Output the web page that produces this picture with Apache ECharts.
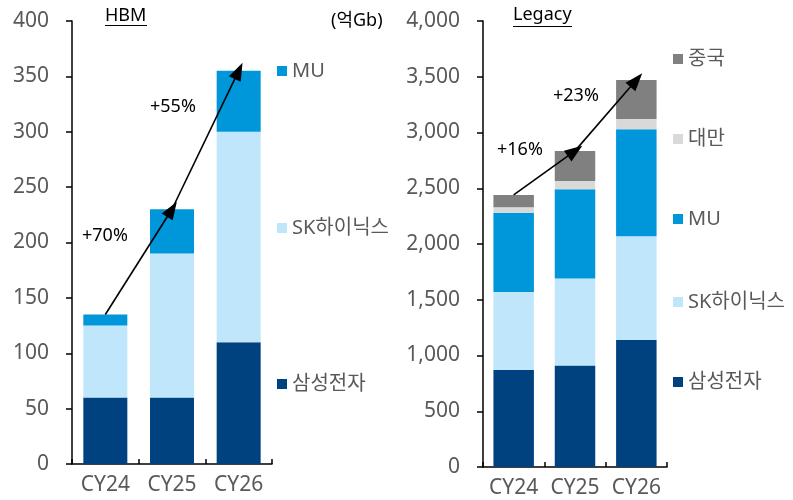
<!DOCTYPE html>
<html>
<head>
<meta charset="utf-8">
<script src="https://cdn.jsdelivr.net/npm/echarts@6/dist/echarts.min.js"></script>
<style>
html,body{margin:0;padding:0;background:#fff;}
#c{width:793px;height:500px;}
</style>
</head>
<body>
<div id="c"></div>
<script>
// ---- data ----
var categories = ['CY24', 'CY25', 'CY26'];
// HBM (억Gb)
var hbmSamsung = [60, 60, 110];
var hbmSK = [65, 130, 190];
var hbmMU = [10, 40, 55];
var hbmTotals = [135, 230, 355];
var hbmGrowth = ['+70%', '+55%'];
// Legacy (억Gb)
var legSamsung = [870, 910, 1140];
var legSK = [700, 780, 930];
var legMU = [710, 800, 960];
var legTaiwan = [50, 75, 90];
var legChina = [110, 270, 350];
var legTotals = [2440, 2835, 3470];
var legGrowth = ['+16%', '+23%'];
var hbmTicks = [0, 400, 50];
var legTicks = [0, 4000, 500];

var C_SAM = '#00427F', C_SK = '#BFE6FB', C_MU = '#0096DA', C_TW = '#D9D9D9', C_CN = '#808080';
var FONT = '"Noto Sans", "Noto Sans CJK KR", sans-serif';
var GRAY = '#595959';

function arrowLines(totals) {
  var out = [];
  for (var i = 0; i < totals.length - 1; i++) {
    out.push([{ coord: [categories[i], totals[i]] }, { coord: [categories[i + 1], totals[i + 1]] }]);
  }
  return out;
}
function markLineFor(totals) {
  return {
    silent: true,
    symbol: ['none', 'triangle'],
    symbolSize: [13, 18],
    label: { show: false },
    lineStyle: { color: '#000', width: 1.6, type: 'solid' },
    emphasis: { disabled: true },
    data: arrowLines(totals)
  };
}
function xAxis(gi) {
  return {
    type: 'category', gridIndex: gi, data: categories,
    axisLine: { lineStyle: { color: '#000', width: 1.5 } },
    axisTick: { show: true, inside: true, length: 5, lineStyle: { color: '#000', width: 1.5 } },
    axisLabel: { color: GRAY, fontSize: 21, fontFamily: FONT, margin: 11, interval: 0, hideOverlap: false }
  };
}
function yAxis(gi, t, fmt) {
  return {
    type: 'value', gridIndex: gi, min: t[0], max: t[1], interval: t[2],
    splitLine: { show: false },
    axisLine: { show: true, lineStyle: { color: '#000', width: 1.5 } },
    axisTick: { show: true, length: 6, lineStyle: { color: '#000', width: 1.5 } },
    axisLabel: { color: GRAY, fontSize: 21, fontFamily: FONT, margin: 23, formatter: fmt }
  };
}
function bar(name, data, color, xi, stack, extra) {
  var s = { name: name, type: 'bar', stack: stack, xAxisIndex: xi, yAxisIndex: xi,
    data: data, itemStyle: { color: color }, barCategoryGap: '34%' };
  if (extra) s.markLine = extra;
  return s;
}
function leg(name, left, top) {
  return { data: [name], left: left, top: top, orient: 'vertical', padding: 0,
    icon: 'rect', itemWidth: 10, itemHeight: 10, itemGap: 0,
    textStyle: { color: GRAY, fontSize: 20, fontFamily: FONT } };
}
function txt(s, x, y, size) {
  return { type: 'text', left: x, top: y, style: { text: s, fill: '#000', font: size + 'px ' + FONT } };
}

var chart = echarts.init(document.getElementById('c'));
chart.setOption({
  animation: false,
  grid: [
    { left: 72, width: 200, top: 21, bottom: 36 },
    { left: 483, width: 184, top: 21, bottom: 33 }
  ],
  xAxis: [xAxis(0), xAxis(1)],
  yAxis: [yAxis(0, hbmTicks), yAxis(1, legTicks, function (v) { return v.toLocaleString('en-US'); })],
  legend: [
    leg('MU', 277, 61), leg('SK하이닉스', 277, 218), leg('삼성전자', 277, 374),
    leg('중국', 673, 49), leg('대만', 673, 129), leg('MU', 673, 209),
    leg('SK하이닉스', 673, 292), leg('삼성전자', 673, 372)
  ],
  series: [
    bar('삼성전자', hbmSamsung, C_SAM, 0, 'hbm'),
    bar('SK하이닉스', hbmSK, C_SK, 0, 'hbm'),
    bar('MU', hbmMU, C_MU, 0, 'hbm', markLineFor(hbmTotals)),
    bar('삼성전자', legSamsung, C_SAM, 1, 'leg'),
    bar('SK하이닉스', legSK, C_SK, 1, 'leg'),
    bar('MU', legMU, C_MU, 1, 'leg'),
    bar('대만', legTaiwan, C_TW, 1, 'leg'),
    bar('중국', legChina, C_CN, 1, 'leg', markLineFor(legTotals))
  ],
  graphic: [
    txt('HBM', 105, 7, 18),
    { type: 'line', shape: { x1: 105, y1: 25.5, x2: 147, y2: 25.5 }, style: { stroke: '#000', lineWidth: 1 } },
    txt('Legacy', 513, 6, 18),
    { type: 'line', shape: { x1: 513, y1: 26.5, x2: 572, y2: 26.5 }, style: { stroke: '#000', lineWidth: 1 } },
    txt('(억Gb)', 331, 12, 18),
    txt(hbmGrowth[0], 82, 227, 18),
    txt(hbmGrowth[1], 150, 98, 18),
    txt(legGrowth[0], 497, 141, 18),
    txt(legGrowth[1], 553, 87, 18)
  ]
});
</script>
</body>
</html>
